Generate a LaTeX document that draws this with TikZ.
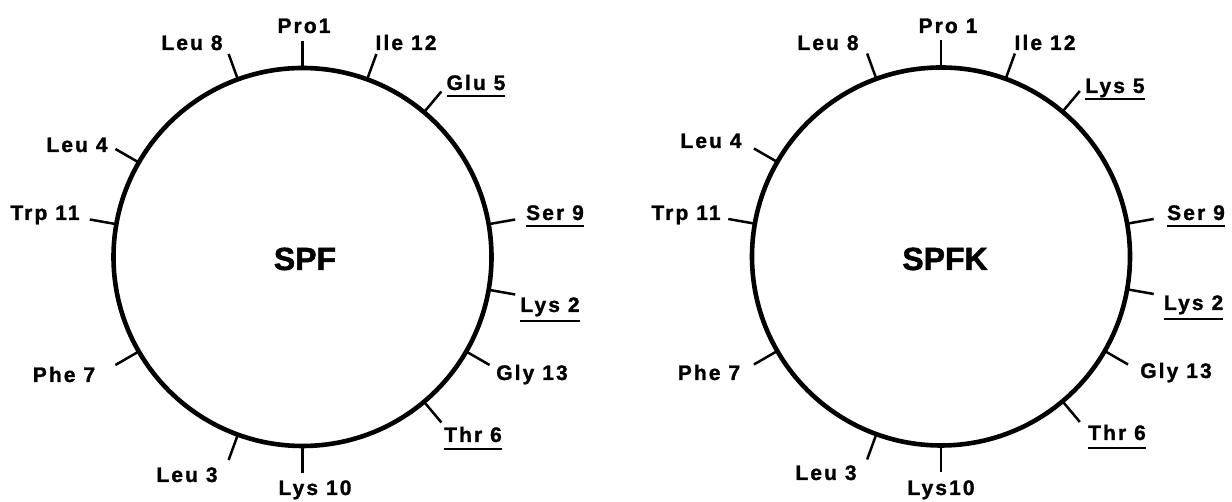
\documentclass[tikz,border=0pt]{standalone}
\usepackage{fontspec}
\setmainfont{Liberation Sans}[LetterSpace=10, BoldFeatures={FakeBold=1.3}]
\newfontfamily\bigfont{Liberation Sans}[BoldFeatures={FakeBold=1.5}]
\begin{document}
\begin{tikzpicture}[x=1pt,y=1pt,
  wheel/.style={circle, draw, line width=4.6pt, minimum size=378pt, inner sep=0pt, outer sep=0pt},
  tick/.style={line width=2.5pt},
  lab/.style={font=\fontsize{21}{25}\selectfont\bfseries, inner sep=0pt, outer sep=0pt, anchor=base},
  title/.style={font=\bigfont\fontsize{32}{36}\selectfont\bfseries, inner sep=0pt, anchor=base},
  ul/.style={line width=2.5pt}]
\useasboundingbox (0,0) rectangle (1232,502);
\node[wheel] (w1) at (302.5,245) {};
\node[wheel] (w2) at (941,245.5) {};
\foreach \a in {90,350,250,150,50,310,210,110,10,270,170,70,330} {
  \draw[tick] (w1.\a) -- ++(\a:27);
  \draw[tick] (w2.\a) -- ++(\a:27);
}
% left wheel labels
\node[title] (spf) at (305,232) {SPF};
\node[lab] (l1) at (304,469) {Pro1};
\node[lab] (l8) at (192,452) {Leu 8};
\node[lab] (l12) at (406,452) {Ile 12};
\node[lab] (l5) at (476,412) {Glu 5};
\node[lab] (l4) at (77,350) {Leu 4};
\node[lab] (l11) at (45,282) {Trp 11};
\node[lab] (l9) at (555,282) {Ser 9};
\node[lab] (l2) at (550,190) {Lys 2};
\node[lab] (l13) at (532,122) {Gly 13};
\node[lab] (l7) at (64,120) {Phe 7};
\node[lab] (l6) at (473,60) {Thr 6};
\node[lab] (l3) at (187,20) {Leu 3};
\node[lab] (l10) at (315,7) {Lys 10};
% right wheel labels
\node[title] (spfk) at (945,232) {SPFK};
\node[lab] (r1) at (948,469) {Pro 1};
\node[lab] (r8) at (828,452) {Leu 8};
\node[lab] (r12) at (1045,452) {Ile 12};
\node[lab] (r5) at (1115,409) {Lys 5};
\node[lab] (r4) at (711,354) {Leu 4};
\node[lab] (r11) at (686,282) {Trp 11};
\node[lab] (r9) at (1196,282) {Ser 9};
\node[lab, anchor=base west] (r2) at (1164,192) {Lys 2};
\node[lab] (r13) at (1176,124) {Gly 13};
\node[lab] (r7) at (709,122) {Phe 7};
\node[lab] (r6) at (1117,62) {Thr 6};
\node[lab] (r3) at (826,22) {Leu 3};
\node[lab] (r10) at (941,7) {Lys10};
% underlines
\foreach \n/\d in {l5/6, l9/6, l2/9, l6/7, r5/6, r9/6, r2/9, r6/8} {
  \draw[ul] ([yshift=-\d pt]\n.base west) -- ([yshift=-\d pt]\n.base east);
}
\end{tikzpicture}
\end{document}
